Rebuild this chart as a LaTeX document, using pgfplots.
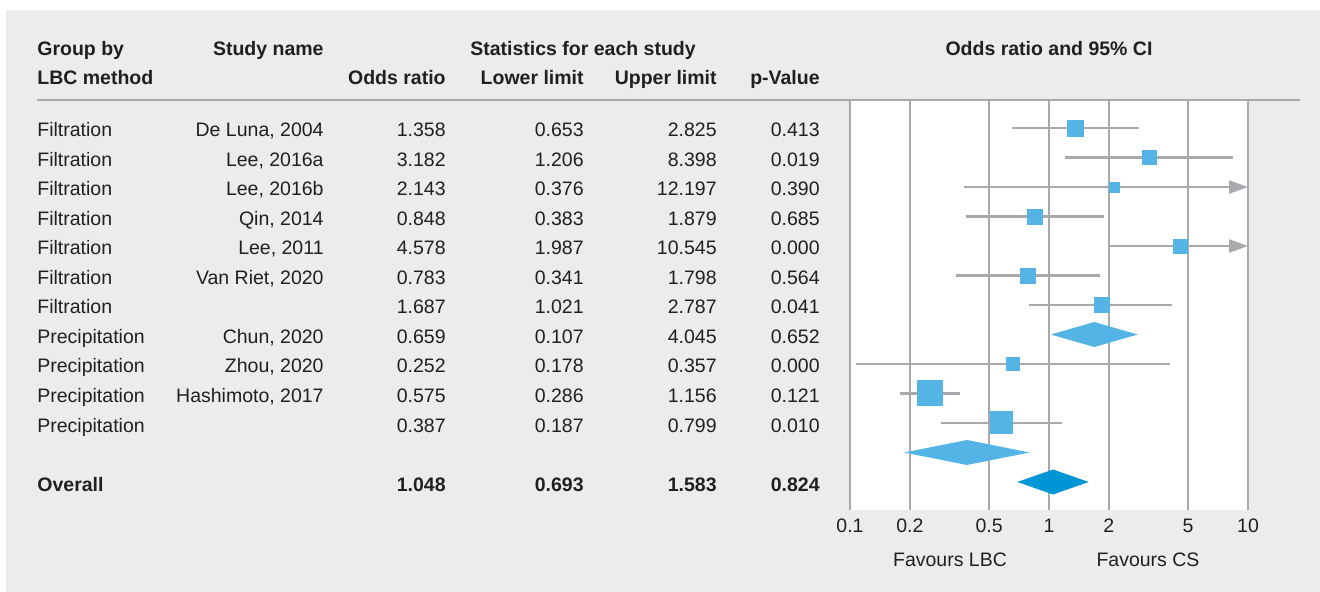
\documentclass[border=0pt]{standalone}
\usepackage{pgfplots}
\pgfplotsset{compat=1.18}
\usepackage{fontspec}
\setmainfont{Liberation Sans}
\usetikzlibrary{arrows.meta}
\definecolor{bg}{RGB}{235,236,235}
\definecolor{gridgray}{RGB}{168,169,172}
\definecolor{sq}{RGB}{85,180,230}
\definecolor{ov}{RGB}{0,150,214}
\definecolor{txt}{RGB}{35,31,32}
\newcommand{\fs}{\fontsize{9.75}{11}\selectfont}
\newcommand{\trow}[7]{%
  \node[anchor=base west] at (37,{137+29.5*(#1-1)}) {#2};
  \node[anchor=base east] at (324,{137+29.5*(#1-1)}) {#3};
  \node[anchor=base east] at (446,{137+29.5*(#1-1)}) {#4};
  \node[anchor=base east] at (584,{137+29.5*(#1-1)}) {#5};
  \node[anchor=base east] at (717,{137+29.5*(#1-1)}) {#6};
  \node[anchor=base east] at (820,{137+29.5*(#1-1)}) {#7};
}
\pgfplotsset{sqmark/.style={only marks, mark=square*, color=sq, mark size=#1, mark options={line width=0pt}}}
\begin{document}
\begin{tikzpicture}[x=0.5pt,y=-0.5pt,every node/.style={inner sep=0pt,font=\fs,text=txt}]
\fill[white] (0,0) rectangle (1320,592);
\fill[bg] (6,10) rectangle (1320,592);
\begin{axis}[
  at={(425pt,-255pt)}, anchor=south west,
  width=199pt, height=205pt, scale only axis,
  xmode=log, xmin=0.1, xmax=10,
  ymin=0.05, ymax=13.95, y dir=reverse,
  axis line style={draw=none},
  ytick=\empty,
  xtick={0.1,0.2,0.5,1,2,5,10},
  xticklabels={0.1,0.2,0.5,1,2,5,10},
  major tick length=0pt,
  xmajorgrids,
  major grid style={color=gridgray, line width=1pt},
  xticklabel style={anchor=base, yshift=-11pt, font=\fs, text=txt, inner sep=0pt},
  axis background/.style={fill=white},
  clip=false,
]
% confidence intervals
\addplot[gridgray, line width=1.1pt] coordinates {(0.653,1) (2.825,1)};
\addplot[gridgray, line width=1.1pt] coordinates {(1.206,2) (8.398,2)};
\addplot[gridgray, line width=1.1pt, -{Triangle[length=9.5pt,width=6.5pt]}] coordinates {(0.376,3) (10,3)};
\addplot[gridgray, line width=1.1pt] coordinates {(0.383,4) (1.879,4)};
\addplot[gridgray, line width=1.1pt, -{Triangle[length=9.5pt,width=6.5pt]}] coordinates {(1.987,5) (10,5)};
\addplot[gridgray, line width=1.1pt] coordinates {(0.341,6) (1.798,6)};
\addplot[gridgray, line width=1.1pt] coordinates {(0.79,7) (4.16,7)};
\addplot[gridgray, line width=1.1pt] coordinates {(0.107,9) (4.045,9)};
\addplot[gridgray, line width=1.1pt] coordinates {(0.178,10) (0.357,10)};
\addplot[gridgray, line width=1.1pt] coordinates {(0.286,11) (1.156,11)};
% study squares
\addplot[sqmark=4pt] coordinates {(1.358,1)};
\addplot[sqmark=3.5pt] coordinates {(3.182,2)};
\addplot[sqmark=2.5pt] coordinates {(2.143,3)};
\addplot[sqmark=3.75pt] coordinates {(0.848,4)};
\addplot[sqmark=3.5pt] coordinates {(4.578,5)};
\addplot[sqmark=3.75pt] coordinates {(0.783,6)};
\addplot[sqmark=3.75pt] coordinates {(1.84,7)};
\addplot[sqmark=3.25pt] coordinates {(0.659,9)};
\addplot[sqmark=6.25pt] coordinates {(0.252,10)};
\addplot[sqmark=5.5pt] coordinates {(0.575,11)};
% subtotal and overall diamonds
\addplot[fill=sq, draw=none] coordinates {(1.021,8) (1.687,7.576) (2.787,8) (1.687,8.424)} --cycle;
\addplot[fill=sq, draw=none] coordinates {(0.187,12) (0.387,11.576) (0.799,12) (0.387,12.424)} --cycle;
\addplot[fill=ov, draw=none] coordinates {(0.693,13) (1.048,12.576) (1.583,13) (1.048,13.424)} --cycle;
\end{axis}
\draw[gridgray, line width=1.25pt] (37,100) -- (1300,100);
% headers
\begin{scope}[every node/.append style={font=\fs\bfseries}]
\node[anchor=base west] at (37,56) {Group by};
\node[anchor=base west] at (37,85) {LBC method};
\node[anchor=base east] at (324,56) {Study name};
\node[anchor=base] at (583,56) {Statistics for each study};
\node[anchor=base east] at (446,85) {Odds ratio};
\node[anchor=base east] at (584,85) {Lower limit};
\node[anchor=base east] at (717,85) {Upper limit};
\node[anchor=base east] at (820,85) {p-Value};
\node[anchor=base] at (1049,56) {Odds ratio and 95\% CI};
\end{scope}
\trow{1}{Filtration}{De Luna, 2004}{1.358}{0.653}{2.825}{0.413}
\trow{2}{Filtration}{Lee, 2016a}{3.182}{1.206}{8.398}{0.019}
\trow{3}{Filtration}{Lee, 2016b}{2.143}{0.376}{12.197}{0.390}
\trow{4}{Filtration}{Qin, 2014}{0.848}{0.383}{1.879}{0.685}
\trow{5}{Filtration}{Lee, 2011}{4.578}{1.987}{10.545}{0.000}
\trow{6}{Filtration}{Van Riet, 2020}{0.783}{0.341}{1.798}{0.564}
\trow{7}{Filtration}{}{1.687}{1.021}{2.787}{0.041}
\trow{8}{Precipitation}{Chun, 2020}{0.659}{0.107}{4.045}{0.652}
\trow{9}{Precipitation}{Zhou, 2020}{0.252}{0.178}{0.357}{0.000}
\trow{10}{Precipitation}{Hashimoto, 2017}{0.575}{0.286}{1.156}{0.121}
\trow{11}{Precipitation}{}{0.387}{0.187}{0.799}{0.010}
\begin{scope}[every node/.append style={font=\fs\bfseries}]
\trow{13}{Overall}{}{1.048}{0.693}{1.583}{0.824}
\end{scope}
\node[anchor=base] at (950,566) {Favours LBC};
\node[anchor=base] at (1148,566) {Favours CS};
\end{tikzpicture}
\end{document}
